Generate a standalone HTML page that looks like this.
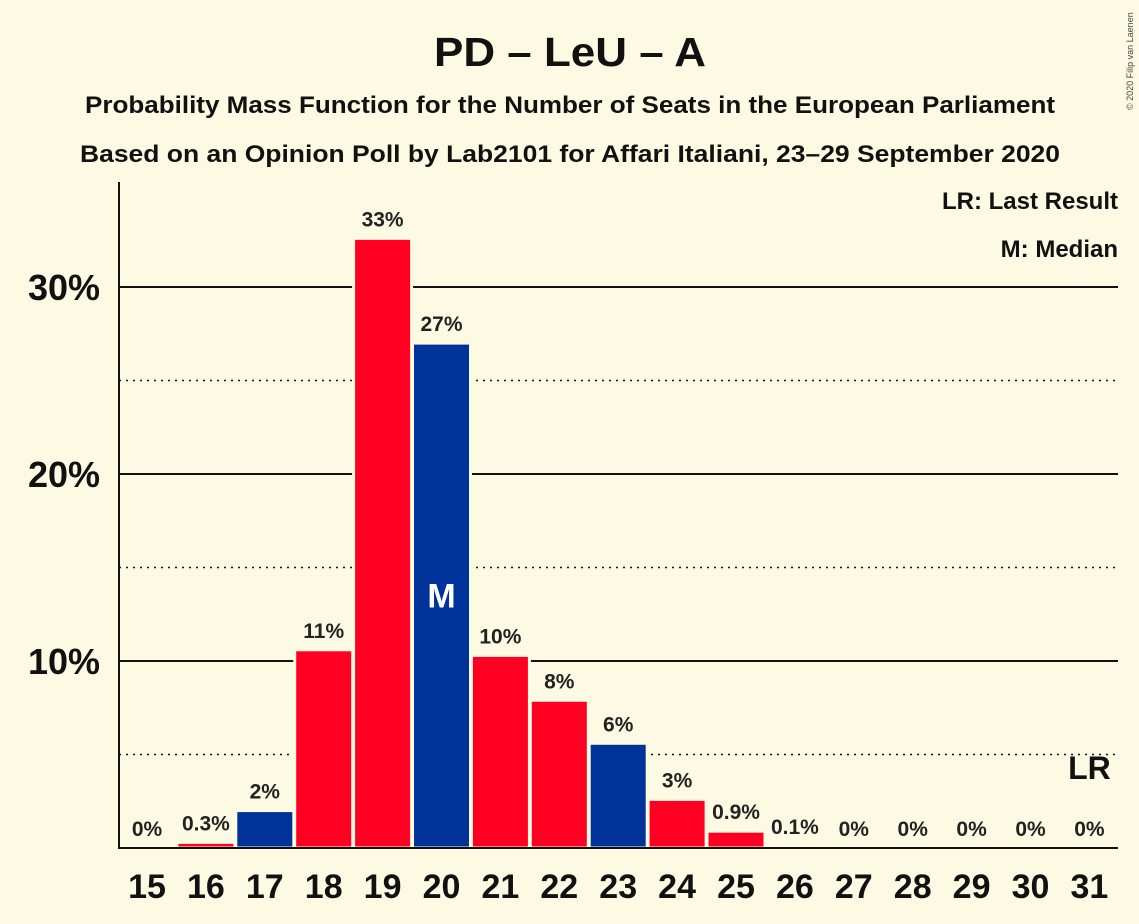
<!DOCTYPE html>
<html><head><meta charset="utf-8"><style>
body{margin:0;background:#fdfae3;}
svg{display:block;font-family:"Liberation Sans",sans-serif;}
</style></head><body>
<svg id="c" width="1139" height="924">
<rect width="1139" height="924" fill="#fdfae3"/>
<text x="570" y="66" text-anchor="middle" font-size="41" font-weight="bold" fill="#111" textLength="272" lengthAdjust="spacingAndGlyphs">PD – LeU – A</text>
<text x="570" y="113" text-anchor="middle" font-size="24" font-weight="bold" fill="#111" textLength="970" lengthAdjust="spacingAndGlyphs">Probability Mass Function for the Number of Seats in the European Parliament</text>
<text x="570" y="162" text-anchor="middle" font-size="24" font-weight="bold" fill="#111" textLength="980" lengthAdjust="spacingAndGlyphs">Based on an Opinion Poll by Lab2101 for Affari Italiani, 23–29 September 2020</text>
<text x="1133" y="110" font-size="9" fill="#444" transform="rotate(-90 1133 110)">© 2020 Filip van Laenen</text>
<text x="1118" y="209" text-anchor="end" font-size="24" font-weight="bold" fill="#111">LR: Last Result</text>
<text x="1118" y="257" text-anchor="end" font-size="24" font-weight="bold" fill="#111">M: Median</text>
<g id="grid"></g><g id="bars"></g><g id="labels"></g>
<line x1="119" y1="182" x2="119" y2="848" stroke="#111" stroke-width="2"/>
<line x1="118" y1="848" x2="1118" y2="848" stroke="#111" stroke-width="2"/>
</svg>
<script>
const seats=[15,16,17,18,19,20,21,22,23,24,25,26,27,28,29,30,31];
const probs=[0,0.3,2.0,10.6,32.6,27.0,10.3,7.9,5.6,2.6,0.9,0.1,0,0,0,0,0];
const printed=["0%","0.3%","2%","11%","33%","27%","10%","8%","6%","3%","0.9%","0.1%","0%","0%","0%","0%","0%"];
const colors=["r","r","b","r","r","b","r","r","b","r","r","r","r","r","r","r","r"];
const yTicks=[10,20,30];
const yMinor=[5,15,25];
const medianSeat=20, lastResultSeat=31;
const NS="http://www.w3.org/2000/svg";
const y=v=>848-v*18.7;
const x=s=>147+(s-15)*58.9;
function mk(t,a,p){const e=document.createElementNS(NS,t);for(const k in a)e.setAttribute(k,a[k]);p.appendChild(e);return e;}
const g=document.getElementById('grid'),b=document.getElementById('bars'),l=document.getElementById('labels');
yMinor.forEach(v=>{const e=mk('line',{x1:119,x2:1118,y1:y(v),y2:y(v),stroke:'#111','stroke-width':1.5,'stroke-dasharray':'2,5'},g);

});
yTicks.forEach(v=>{const e=mk('line',{x1:119,x2:1118,y1:y(v),y2:y(v),stroke:'#111','stroke-width':2},g);


const t=mk('text',{x:100,y:y(v)+13,'text-anchor':'end','font-size':36,'font-weight':'bold',fill:'#111'},l);t.textContent=v+'%';

});
seats.forEach((s,i)=>{const v=probs[i];
if(v>0){const r=mk('rect',{x:x(s)-29,y:y(v),width:58,height:848-y(v),fill:colors[i]=='b'?'#003399':'#ff0022',stroke:'#fdfae3','stroke-width':3},b);

}
const t=mk('text',{x:x(s),y:y(v)-12,'text-anchor':'middle','font-size':21,'font-weight':'bold',fill:'#222'},l);t.textContent=printed[i];


const xl=mk('text',{x:x(s),y:898,'text-anchor':'middle','font-size':34,'font-weight':'bold',fill:'#111'},l);xl.textContent=s;


if(s==medianSeat){const m=mk('text',{x:x(s),y:y(v*0.5)+12,'text-anchor':'middle','font-size':34,'font-weight':'bold',fill:'#fff'},l);m.textContent='M';

}
if(s==lastResultSeat){const m=mk('text',{x:x(s),y:779,'text-anchor':'middle','font-size':32,'font-weight':'bold',fill:'#111'},l);m.textContent='LR';

}
});
</script>
</body></html>
